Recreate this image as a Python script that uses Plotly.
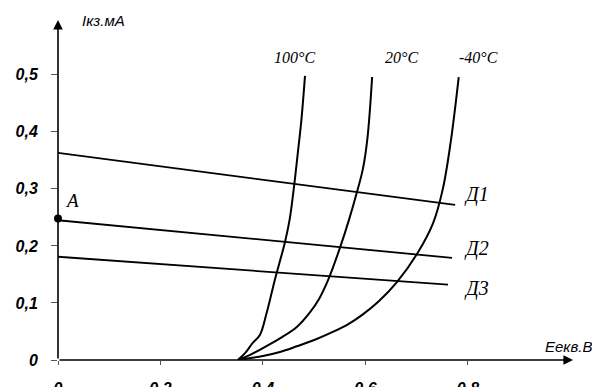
import plotly.graph_objects as go

# --- data ---
# Characteristic curves (E, V ; I, mA)
t100_E = [0.351, 0.365, 0.380, 0.394, 0.407, 0.423, 0.443, 0.452, 0.461, 0.468, 0.475, 0.482]
t100_I = [0.0, 0.012, 0.030, 0.044, 0.082, 0.140, 0.207, 0.246, 0.307, 0.363, 0.421, 0.498]

t20_E = [0.351, 0.375, 0.400, 0.433, 0.466, 0.492, 0.510, 0.527, 0.550, 0.568, 0.583, 0.595, 0.604, 0.613]
t20_I = [0.0, 0.009, 0.021, 0.038, 0.058, 0.084, 0.108, 0.140, 0.196, 0.246, 0.293, 0.335, 0.390, 0.496]

tm40_E = [0.351, 0.400, 0.433, 0.466, 0.500, 0.531, 0.565, 0.595, 0.625, 0.661, 0.702, 0.732, 0.751, 0.766, 0.782]
tm40_I = [0.0, 0.007, 0.014, 0.024, 0.035, 0.047, 0.062, 0.080, 0.102, 0.136, 0.188, 0.240, 0.300, 0.380, 0.496]

curve_labels = ["100°C", "20°C", "-40°C"]
curve_label_E = [0.461, 0.670, 0.820]
curve_label_I = [0.531, 0.531, 0.531]

# Load lines
d1_E = [0.0, 0.775]
d1_I = [0.363, 0.272]
d2_E = [0.0, 0.769]
d2_I = [0.245, 0.179]
d3_E = [0.0, 0.761]
d3_I = [0.181, 0.132]
load_labels = ["Д1", "Д2", "Д3"]
load_label_E = [0.817, 0.817, 0.817]
load_label_I = [0.290, 0.196, 0.126]

pointA_E = [0.0]
pointA_I = [0.248]

x_tickvals = [0, 0.2, 0.4, 0.6, 0.8]
x_ticktext = ["0", "0,2", "0,4", "0,6", "0,8"]
y_tickvals = [0, 0.1, 0.2, 0.3, 0.4, 0.5]
y_ticktext = ["0", "0,1", "0,2", "0,3", "0,4", "0,5"]

x_title = "Еекв.В"
y_title = "Iкз.мА"

X_MAX = 1.005
Y_MAX = 0.596

fig = go.Figure()

curve_style = dict(color="black", width=2, shape="spline", smoothing=1.0)
for E, I in [(t100_E, t100_I), (t20_E, t20_I), (tm40_E, tm40_I)]:
    fig.add_trace(go.Scatter(x=E, y=I, mode="lines", line=curve_style,
                             hoverinfo="skip", showlegend=False))

for E, I in [(d1_E, d1_I), (d2_E, d2_I), (d3_E, d3_I)]:
    fig.add_trace(go.Scatter(x=E, y=I, mode="lines",
                             line=dict(color="black", width=1.8),
                             hoverinfo="skip", showlegend=False))

fig.add_trace(go.Scatter(x=pointA_E, y=pointA_I, mode="markers",
                         marker=dict(color="black", size=8),
                         cliponaxis=False, hoverinfo="skip", showlegend=False))

serif = "Liberation Serif, Times New Roman, serif"
sans = "Liberation Sans, Arial, sans-serif"

annotations = []
for t, e, i in zip(curve_labels, curve_label_E, curve_label_I):
    annotations.append(dict(x=e, y=i, text=t, showarrow=False,
                            font=dict(family=serif, size=16, color="black", style="italic")))
for t, e, i in zip(load_labels, load_label_E, load_label_I):
    annotations.append(dict(x=e, y=i, text=t, showarrow=False,
                            font=dict(family=serif, size=20, color="black", style="italic")))
annotations.append(dict(x=0.027, y=0.279, text="A", showarrow=False,
                        font=dict(family=serif, size=19, color="black", style="italic")))

# axis arrows
annotations.append(dict(x=X_MAX, y=0, ax=0, ay=0, xref="x", yref="y", axref="x", ayref="y",
                        text="", showarrow=True, arrowhead=2, arrowsize=1.2, arrowwidth=1.6,
                        arrowcolor="black"))
annotations.append(dict(x=0, y=Y_MAX, ax=0, ay=0, xref="x", yref="y", axref="x", ayref="y",
                        text="", showarrow=True, arrowhead=2, arrowsize=1.2, arrowwidth=1.6,
                        arrowcolor="black"))
# axis titles
annotations.append(dict(x=0.043, y=Y_MAX, xanchor="left", yanchor="middle", text=y_title,
                        showarrow=False,
                        font=dict(family=sans, size=15, color="black", style="italic")))
annotations.append(dict(x=1.0, xref="paper", xshift=21, y=0.023, xanchor="right",
                        yanchor="middle", text=x_title, showarrow=False,
                        font=dict(family=sans, size=15, color="black", style="italic")))

# page body has an 8px default margin, so the figure is placed 8px in from the corner
fig.update_layout(
    width=600, height=387,
    margin=dict(l=50, r=35, t=12, b=35, autoexpand=False),
    paper_bgcolor="white", plot_bgcolor="white",
    annotations=annotations,
    xaxis=dict(range=[0, X_MAX], showgrid=False, zeroline=False, showline=False,
               automargin=False,
               tickvals=x_tickvals, ticktext=x_ticktext, ticks="outside", ticklen=4,
               tickcolor="#555", tickwidth=1, ticklabelstandoff=10,
               tickfont=dict(family=sans, size=16, color="black", style="italic", weight="bold")),
    yaxis=dict(range=[0, Y_MAX], showgrid=False, zeroline=False, showline=False,
               automargin=False,
               tickvals=y_tickvals, ticktext=y_ticktext, ticks="outside", ticklen=6,
               tickcolor="#555", tickwidth=1, ticklabelstandoff=10,
               tickfont=dict(family=sans, size=16, color="black", style="italic", weight="bold")),
)

fig.write_html("out.html")
